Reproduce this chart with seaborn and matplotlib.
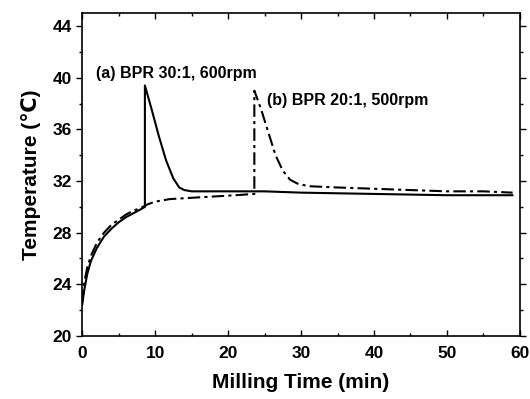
import numpy as np
import pandas as pd
import matplotlib
matplotlib.use("Agg")
import matplotlib.pyplot as plt
import seaborn as sns

# (a) BPR 30:1, 600rpm  - solid
time_a = [0, 0.3, 0.7, 1.2, 2, 3, 4, 5, 6, 7, 8, 8.6, 8.6, 9.5, 10.5, 11.5, 12.5, 13.3, 14, 15, 18, 22, 25, 30, 40, 50, 59]
temp_a = [22.4, 23.6, 24.8, 25.8, 26.8, 27.7, 28.3, 28.8, 29.2, 29.5, 29.8, 30.0, 39.4, 37.6, 35.5, 33.6, 32.2, 31.5, 31.3, 31.2, 31.2, 31.2, 31.2, 31.1, 31.0, 30.9, 30.9]

# (b) BPR 20:1, 500rpm  - dash-dot
time_b = [0, 0.3, 0.7, 1.2, 2, 3, 4, 5, 6, 7, 8, 9, 10, 12, 15, 18, 21, 23.6, 23.6, 24.5, 25.5, 26.5, 27.5, 28.5, 29.5, 31, 35, 40, 45, 50, 55, 59]
temp_b = [22.6, 24.2, 25.3, 26.2, 27.2, 28.0, 28.6, 29.0, 29.4, 29.7, 29.9, 30.2, 30.4, 30.6, 30.7, 30.8, 30.9, 31.0, 39.0, 37.6, 35.8, 34.0, 32.8, 32.1, 31.8, 31.6, 31.5, 31.4, 31.3, 31.2, 31.2, 31.1]

df_a = pd.DataFrame({"time": time_a, "temp": temp_a})
df_b = pd.DataFrame({"time": time_b, "temp": temp_b})

sns.set_style("ticks")
plt.rcParams["font.family"] = ["Liberation Sans", "DejaVu Sans"]
plt.rcParams["font.weight"] = "bold"
plt.rcParams["text.color"] = "black"
plt.rcParams["axes.labelcolor"] = "black"

fig = plt.figure(figsize=(5.3, 3.99), dpi=100)
ax = fig.add_axes([0.155, 0.158, 0.826, 0.809])

sns.lineplot(data=df_a, x="time", y="temp", ax=ax, color="black", lw=1.5,
             sort=False, estimator=None)
sns.lineplot(data=df_b, x="time", y="temp", ax=ax, color="black", lw=1.5,
             linestyle=(0, (6, 2, 1.5, 2)), sort=False, estimator=None)

ax.set_xlim(0, 60)
ax.set_ylim(20, 45)
ax.set_xticks(range(0, 61, 10))
ax.set_xticks(range(0, 61, 5), minor=True)
ax.set_yticks(range(20, 45, 4))
ax.set_yticks(range(20, 46, 2), minor=True)
ax.tick_params(axis="both", which="both", top=True, right=True, labelsize=12.5,
               colors="black", width=1)
ax.tick_params(axis="x", which="both", direction="in", pad=7)
ax.tick_params(axis="y", which="both", direction="out")
ax.tick_params(which="major", length=4)
ax.tick_params(which="minor", length=2.5)
for lab in ax.get_xticklabels() + ax.get_yticklabels():
    lab.set_fontweight("bold")
for sp in ax.spines.values():
    sp.set_linewidth(1.2)
    sp.set_color("black")

ax.set_xlabel("Milling Time (min)", fontsize=15, fontweight="bold", labelpad=9)
ax.set_ylabel("Temperature (\u2103)", fontsize=15, fontweight="bold", labelpad=8)

ax.text(1.9, 40.3, "(a) BPR 30:1, 600rpm", fontsize=11.5, va="center", ha="left")
ax.text(25.4, 38.2, "(b) BPR 20:1, 500rpm", fontsize=11.5, va="center", ha="left")

fig.savefig("out.png", dpi=100)
